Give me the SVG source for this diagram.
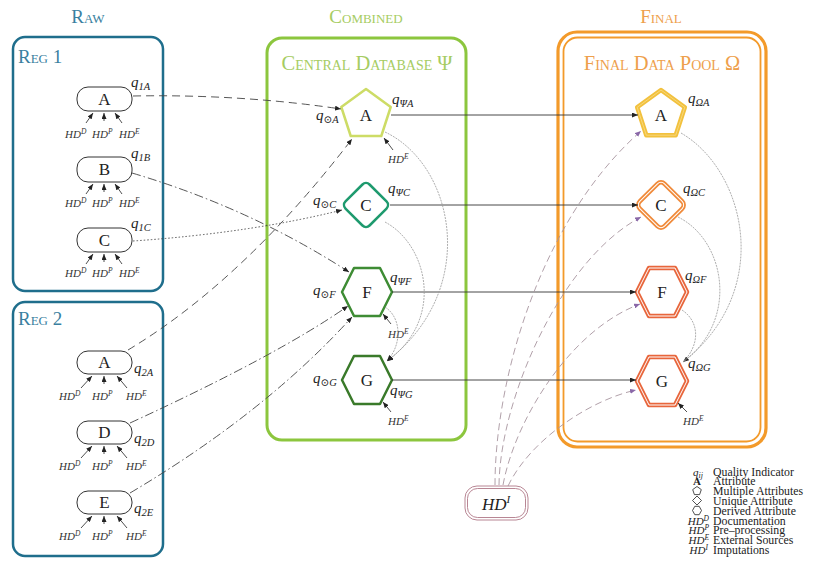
<svg xmlns="http://www.w3.org/2000/svg" width="813" height="564" viewBox="0 0 813 564">
<style>
text{font-family:"Liberation Serif","DejaVu Serif",serif;fill:#222}
.title{font-size:19px;font-variant:small-caps;text-anchor:middle}
.big{font-size:20.5px}
.raw{fill:#3a7fa0}.comb{fill:#a6cc62}.fin{fill:#eea04c}
.reg{fill:none;stroke:#1f6e8c;stroke-width:2.5}
.rn{fill:#fff;stroke:#333;stroke-width:1}
.lbl{font-size:17px;text-anchor:middle}
.q{font-size:15px;font-style:italic}
.sub{font-size:10.5px}
.hd{font-size:11px;font-style:italic;fill:#333}
.sup{font-size:7.5px}
.sm{stroke:#222;stroke-width:0.8;fill:none}
.hz{stroke:#333;stroke-width:0.9;fill:none}
.gc{stroke:#999;stroke-width:0.8;fill:none;stroke-dasharray:2 1}
.c{stroke:#444;stroke-width:0.9;fill:none}
.dash{stroke-dasharray:8 5}
.dd{stroke-dasharray:9 3 1.5 3}
.dot{stroke-dasharray:1.5 2}
.hi{stroke:#a8959f;stroke-width:0.9;fill:none;stroke-dasharray:7 4}
.leg{font-size:11.8px}
.ls{fill:none;stroke:#222;stroke-width:0.8}
</style>
<defs>
<marker id="ar" markerUnits="userSpaceOnUse" markerWidth="6" markerHeight="5" refX="6" refY="2.5" orient="auto"><path d="M0,0 L6,2.5 L0,5 z" fill="#222"/></marker>
<marker id="ap" markerUnits="userSpaceOnUse" markerWidth="6" markerHeight="5" refX="6" refY="2.5" orient="auto"><path d="M0,0 L6,2.5 L0,5 z" fill="#8a68a8"/></marker>
</defs>

<!-- titles -->
<text class="title raw" x="88" y="23">Raw</text>
<text class="title comb" x="366" y="23">Combined</text>
<text class="title fin" x="661" y="23">Final</text>

<!-- containers -->
<g id="reg1">
<rect class="reg" x="13" y="37" width="150" height="254" rx="12"/>
<text class="title raw" x="18" y="63" style="text-anchor:start">Reg 1</text>
</g>
<g id="reg2">
<rect class="reg" x="13" y="302" width="150" height="254" rx="12"/>
<text class="title raw" x="18" y="325" style="text-anchor:start">Reg 2</text>
</g>
<g id="central">
<rect x="267" y="38" width="199" height="402" rx="15" fill="none" stroke="#8cc63e" stroke-width="3"/>
<text class="title comb big" x="367" y="70">Central Database Ψ</text>
</g>
<g id="finalpool">
<rect x="558" y="32" width="208" height="415" rx="19" fill="none" stroke="#f39a2a" stroke-width="3.2"/>
<rect x="563.5" y="37.5" width="197" height="404" rx="14" fill="none" stroke="#f39a2a" stroke-width="1.8"/>
<text class="title fin big" x="662" y="70">Final Data Pool Ω</text>
</g>

<!-- Reg 1 nodes -->
<g id="r1A">
<rect class="rn" x="77" y="87" width="55" height="24" rx="11"/>
<text class="lbl" x="104.5" y="105">A</text>
<text class="q" x="131" y="87">q<tspan class="sub" dy="3">1</tspan><tspan class="sub">A</tspan></text>
<text class="hd" x="65" y="138">HD<tspan class="sup" dy="-4">D</tspan></text>
<text class="hd" x="92" y="138">HD<tspan class="sup" dy="-4">P</tspan></text>
<text class="hd" x="119" y="138">HD<tspan class="sup" dy="-4">E</tspan></text>
<path class="sm" d="M86,123 L93,113" marker-end="url(#ar)"/>
<path class="sm" d="M104,121 L104,113" marker-end="url(#ar)"/>
<path class="sm" d="M122,123 L115,113" marker-end="url(#ar)"/>
</g>
<g id="r1B">
<rect class="rn" x="77" y="157" width="55" height="25" rx="11"/>
<text class="lbl" x="104.5" y="175">B</text>
<text class="q" x="131" y="158">q<tspan class="sub" dy="3">1B</tspan></text>
<text class="hd" x="65" y="207">HD<tspan class="sup" dy="-4">D</tspan></text>
<text class="hd" x="92" y="207">HD<tspan class="sup" dy="-4">P</tspan></text>
<text class="hd" x="119" y="207">HD<tspan class="sup" dy="-4">E</tspan></text>
<path class="sm" d="M86,194 L93,184" marker-end="url(#ar)"/>
<path class="sm" d="M104,192 L104,184" marker-end="url(#ar)"/>
<path class="sm" d="M122,194 L115,184" marker-end="url(#ar)"/>
</g>
<g id="r1C">
<rect class="rn" x="77" y="228" width="55" height="24" rx="11"/>
<text class="lbl" x="104.5" y="246">C</text>
<text class="q" x="131" y="228">q<tspan class="sub" dy="3">1C</tspan></text>
<text class="hd" x="65" y="277">HD<tspan class="sup" dy="-4">D</tspan></text>
<text class="hd" x="92" y="277">HD<tspan class="sup" dy="-4">P</tspan></text>
<text class="hd" x="119" y="277">HD<tspan class="sup" dy="-4">E</tspan></text>
<path class="sm" d="M86,264 L93,254" marker-end="url(#ar)"/>
<path class="sm" d="M104,262 L104,254" marker-end="url(#ar)"/>
<path class="sm" d="M122,264 L115,254" marker-end="url(#ar)"/>
</g>

<!-- Reg 2 nodes -->
<g id="r2A">
<rect class="rn" x="77" y="351" width="55" height="23" rx="11"/>
<text class="lbl" x="104.5" y="368">A</text>
<text class="q" x="134" y="373">q<tspan class="sub" dy="3">2A</tspan></text>
<text class="hd" x="59" y="400">HD<tspan class="sup" dy="-4">D</tspan></text>
<text class="hd" x="92" y="400">HD<tspan class="sup" dy="-4">P</tspan></text>
<text class="hd" x="126" y="400">HD<tspan class="sup" dy="-4">E</tspan></text>
<path class="sm" d="M81,388 L92,376" marker-end="url(#ar)"/>
<path class="sm" d="M104,384 L104,376" marker-end="url(#ar)"/>
<path class="sm" d="M127,388 L117,376" marker-end="url(#ar)"/>
</g>
<g id="r2D">
<rect class="rn" x="77" y="421" width="55" height="23" rx="11"/>
<text class="lbl" x="104.5" y="438">D</text>
<text class="q" x="134" y="443">q<tspan class="sub" dy="3">2D</tspan></text>
<text class="hd" x="59" y="470">HD<tspan class="sup" dy="-4">D</tspan></text>
<text class="hd" x="92" y="470">HD<tspan class="sup" dy="-4">P</tspan></text>
<text class="hd" x="126" y="470">HD<tspan class="sup" dy="-4">E</tspan></text>
<path class="sm" d="M81,458 L92,446" marker-end="url(#ar)"/>
<path class="sm" d="M104,454 L104,446" marker-end="url(#ar)"/>
<path class="sm" d="M127,458 L117,446" marker-end="url(#ar)"/>
</g>
<g id="r2E">
<rect class="rn" x="77" y="491" width="55" height="23" rx="11"/>
<text class="lbl" x="104.5" y="508">E</text>
<text class="q" x="134" y="513">q<tspan class="sub" dy="3">2E</tspan></text>
<text class="hd" x="59" y="540">HD<tspan class="sup" dy="-4">D</tspan></text>
<text class="hd" x="92" y="540">HD<tspan class="sup" dy="-4">P</tspan></text>
<text class="hd" x="126" y="540">HD<tspan class="sup" dy="-4">E</tspan></text>
<path class="sm" d="M81,528 L92,516" marker-end="url(#ar)"/>
<path class="sm" d="M104,524 L104,516" marker-end="url(#ar)"/>
<path class="sm" d="M127,528 L117,516" marker-end="url(#ar)"/>
</g>

<!-- Central nodes -->
<g id="cA">
<polygon points="366,89 390.7,107 381.3,136 350.7,136 341.3,107" fill="#fff" stroke="#cddc66" stroke-width="2.5" stroke-linejoin="round"/>
<text class="lbl" x="366" y="121">A</text>
<text class="q" x="392" y="104">q<tspan class="sub" dy="3">ΨA</tspan></text>
<text class="q" x="316" y="120">q<tspan class="sub" dy="3">⊙A</tspan></text>
<text class="hd" x="388" y="163">HD<tspan class="sup" dy="-4">E</tspan></text>
<path class="sm" d="M393,150 L384,138" marker-end="url(#ar)"/>
</g>
<g id="cC">
<rect x="-17" y="-17" width="34" height="34" rx="5" transform="translate(366,205) rotate(45)" fill="#fff" stroke="#1e9a6e" stroke-width="2.5"/>
<text class="lbl" x="366" y="211">C</text>
<text class="q" x="388" y="193">q<tspan class="sub" dy="3">ΨC</tspan></text>
<text class="q" x="313" y="205">q<tspan class="sub" dy="3">⊙C</tspan></text>
</g>
<g id="cF">
<polygon points="342,292 354,268 380,268 392,292 380,316 354,316" fill="#fff" stroke="#3e8c34" stroke-width="2.5" stroke-linejoin="round"/>
<text class="lbl" x="367" y="298">F</text>
<text class="q" x="390" y="282">q<tspan class="sub" dy="3">ΨF</tspan></text>
<text class="q" x="313" y="295">q<tspan class="sub" dy="3">⊙F</tspan></text>
<text class="hd" x="388" y="338">HD<tspan class="sup" dy="-4">E</tspan></text>
<path class="sm" d="M391,324 L383,314" marker-end="url(#ar)"/>
</g>
<g id="cG">
<polygon points="342,380 354,356 380,356 392,380 380,404 354,404" fill="#fff" stroke="#3a7a2a" stroke-width="2.5" stroke-linejoin="round"/>
<text class="lbl" x="367" y="386">G</text>
<text class="q" x="390" y="395">q<tspan class="sub" dy="3">ΨG</tspan></text>
<text class="q" x="313" y="383">q<tspan class="sub" dy="3">⊙G</tspan></text>
<text class="hd" x="388" y="425">HD<tspan class="sup" dy="-4">E</tspan></text>
<path class="sm" d="M391,412 L383,402" marker-end="url(#ar)"/>
</g>

<!-- Final nodes -->
<g id="fA">
<polygon points="661,90 684.8,107.3 675.7,135.2 646.3,135.2 637.2,107.3" fill="#fff" stroke="#f2c13d" stroke-width="4.5" stroke-linejoin="round"/>
<polygon points="661,90 684.8,107.3 675.7,135.2 646.3,135.2 637.2,107.3" fill="none" stroke="#f8dc8c" stroke-width="0.8" stroke-linejoin="round"/>
<text class="lbl" x="661" y="121">A</text>
<text class="q" x="688" y="103">q<tspan class="sub" dy="3">ΩA</tspan></text>
</g>
<g id="fC">
<rect x="-17.5" y="-17.5" width="35" height="35" rx="5" transform="translate(661,205) rotate(45)" fill="#fff" stroke="#f08a3a" stroke-width="4.5"/>
<rect x="-17.5" y="-17.5" width="35" height="35" rx="5" transform="translate(661,205) rotate(45)" fill="none" stroke="#fff" stroke-width="1"/>
<text class="lbl" x="661" y="211">C</text>
<text class="q" x="683" y="193">q<tspan class="sub" dy="3">ΩC</tspan></text>
</g>
<g id="fF">
<polygon points="637,292 649,268 675,268 687,292 675,316 649,316" fill="#fff" stroke="#e8663c" stroke-width="4.5" stroke-linejoin="round"/>
<polygon points="637,292 649,268 675,268 687,292 675,316 649,316" fill="none" stroke="#fff" stroke-width="1" stroke-linejoin="round"/>
<text class="lbl" x="662" y="298">F</text>
<text class="q" x="685" y="280">q<tspan class="sub" dy="3">ΩF</tspan></text>
</g>
<g id="fG">
<polygon points="637,381 649,357 675,357 687,381 675,405 649,405" fill="#fff" stroke="#e8663c" stroke-width="4.5" stroke-linejoin="round"/>
<polygon points="637,381 649,357 675,357 687,381 675,405 649,405" fill="none" stroke="#fff" stroke-width="1" stroke-linejoin="round"/>
<text class="lbl" x="662" y="387">G</text>
<text class="q" x="688" y="368">q<tspan class="sub" dy="3">ΩG</tspan></text>
<text class="hd" x="683" y="425">HD<tspan class="sup" dy="-4">E</tspan></text>
<path class="sm" d="M687,412 L678,403" marker-end="url(#ar)"/>
</g>

<g id="hdi">
<rect x="465" y="486" width="63" height="34" rx="12" fill="#fff" stroke="#b07888" stroke-width="0.9"/>
<rect x="467.5" y="488.5" width="58" height="29" rx="10" fill="none" stroke="#b07888" stroke-width="0.9"/>
<text x="482" y="510" style="font-size:17px;font-style:italic">HD<tspan dy="-7" style="font-size:11px">I</tspan></text>
</g>

<!-- connectors -->
<g id="connectors">
<path class="c dash" d="M133,96 Q240,94 341,109" marker-end="url(#ar)"/>
<path class="c dd" d="M132,173 Q250,208 349,272" marker-end="url(#ar)"/>
<path class="c dot" d="M133,241 Q250,233 342,210" marker-end="url(#ar)"/>
<path class="c dash" d="M128,350 Q243,281 352,139" marker-end="url(#ar)"/>
<path class="c dd" d="M130,423 Q278,355 348,306" marker-end="url(#ar)"/>
<path class="c dd" d="M130,493 Q265,413 352,317" marker-end="url(#ar)"/>

<path class="hz" d="M391,115 L638,115" marker-end="url(#ar)"/>
<path class="hz" d="M390,205 L638,205" marker-end="url(#ar)"/>
<path class="hz" d="M392,292 L636,292" marker-end="url(#ar)"/>
<path class="hz" d="M392,380 L636,380" marker-end="url(#ar)"/>

<path class="gc" d="M385,132 C455,165 480,290 387,361" marker-end="url(#ar)"/>
<path class="gc" d="M385,222 C428,245 445,320 387,361" marker-end="url(#ar)"/>
<path class="gc" d="M385,307 C402,318 402,345 387,361" marker-end="url(#ar)"/>

<path class="gc" d="M681,133 C745,170 775,290 683,362" marker-end="url(#ar)"/>
<path class="gc" d="M678,217 C725,240 740,320 683,362"/>
<path class="gc" d="M682,310 C700,322 700,345 683,362"/>

<path class="hi" d="M495,485 C495,380 540,220 641,131" marker-end="url(#ap)"/>
<path class="hi" d="M499,485 C500,400 560,260 641,217" marker-end="url(#ap)"/>
<path class="hi" d="M503,485 C515,420 570,330 640,304" marker-end="url(#ap)"/>
<path class="hi" d="M508,486 C530,440 590,400 636,390" marker-end="url(#ap)"/>
</g>

<!-- legend -->
<g id="legend">
<text class="leg" x="698" y="475.5" style="font-style:italic;text-anchor:middle;font-size:11px">q<tspan dy="2" style="font-size:8px">ij</tspan></text>
<text class="leg" x="713" y="475.5">Quality Indicator</text>
<text class="leg" x="697" y="485.3" style="font-weight:bold;text-anchor:middle;font-size:11px">A</text>
<text class="leg" x="713" y="485.3">Attribute</text>
<polygon class="ls" points="697,486.5 701.3,489.6 699.6,494.6 694.4,494.6 692.7,489.6"/>
<text class="leg" x="713" y="495.1">Multiple Attributes</text>
<polygon class="ls" points="697,496 701.5,500.5 697,505 692.5,500.5"/>
<text class="leg" x="713" y="504.9">Unique Attribute</text>
<polygon class="ls" points="692.5,510.5 694.8,506.3 699.2,506.3 701.5,510.5 699.2,514.7 694.8,514.7"/>
<text class="leg" x="713" y="514.7">Derived Attribute</text>
<text class="leg" x="709" y="524.5" style="font-style:italic;text-anchor:end;font-size:11px">HD<tspan dy="-4" style="font-size:7.5px">D</tspan></text>
<text class="leg" x="713" y="524.5">Documentation</text>
<text class="leg" x="709" y="534.3" style="font-style:italic;text-anchor:end;font-size:11px">HD<tspan dy="-4" style="font-size:7.5px">P</tspan></text>
<text class="leg" x="713" y="534.3">Pre–processing</text>
<text class="leg" x="709" y="544.1" style="font-style:italic;text-anchor:end;font-size:11px">HD<tspan dy="-4" style="font-size:7.5px">E</tspan></text>
<text class="leg" x="713" y="544.1">External Sources</text>
<text class="leg" x="708" y="553.9" style="font-style:italic;text-anchor:end;font-size:11px">HD<tspan dy="-4" style="font-size:7.5px">I</tspan></text>
<text class="leg" x="713" y="553.9">Imputations</text>
</g>
</svg>
